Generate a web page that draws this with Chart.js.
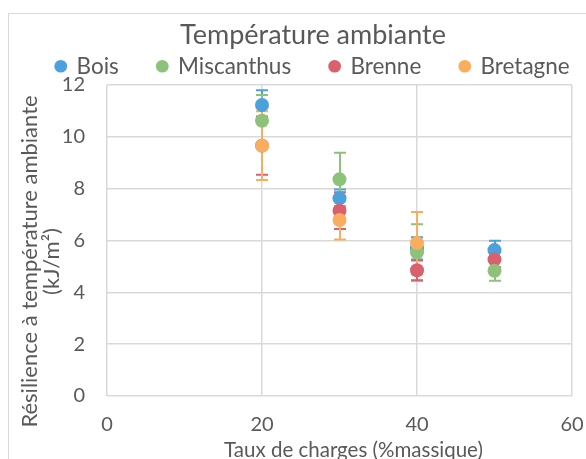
<!DOCTYPE html>
<html>
<head>
<meta charset="utf-8">
<script src="https://cdn.jsdelivr.net/npm/chart.js@4"></script>
<style>
  html, body { margin: 0; padding: 0; background: #fff; }
  #wrap { width: 586px; height: 459px; position: relative; overflow: hidden; }
</style>
</head>
<body>
<div id="wrap"><canvas id="chart" width="586" height="459"></canvas></div>
<script>
// Résilience à température ambiante selon le taux de charges
const taux = [20, 30, 40, 50];

const bois = [11.23, 7.63, 5.7, 5.63];
const boisErr = [0.57, 0.34, 0.43, 0.36];

const miscanthus = [10.62, 8.36, 5.54, 4.83];
const miscanthusErr = [0.99, 1.03, 1.09, 0.38];

const brenne = [9.66, 7.15, 4.85, 5.27];
const brenneErr = [1.12, 0.71, 0.38, 0.3];

const bretagne = [9.66, 6.79, 5.9];
const bretagneErr = [1.33, 0.75, 1.2];

const yTitle = ['Résilience à température ambiante', '(kJ/m²)'];
const xTitle = 'Taux de charges (%massique)';

const colors = {
    bois: '#4aa1dc',
    miscanthus: '#8cc27a',
    brenne: '#d9606c',
    bretagne: '#f9ad5e',
    text: '#595959',
    grid: '#d9d9d9'
};

const FONT = 'Lato';

const toPoints = (vals) => vals.map((v, i) => ({ x: taux[i], y: v }));

const makeSet = (label, vals, err, color, order) => ({
    label: label,
    data: toPoints(vals),
    errors: err,
    backgroundColor: color,
    borderColor: color,
    pointRadius: 7,
    pointHoverRadius: 7,
    pointBorderWidth: 0,
    pointStyle: 'circle',
    showLine: false,
    order: order
});

// Barres d'erreur verticales avec petits chapeaux (sous les marqueurs)
const errorBars = {
    id: 'errorBars',
    beforeDatasetsDraw(chart) {
        const { ctx, scales: { x, y } } = chart;
        ctx.save();
        ctx.lineWidth = 2;
        chart.data.datasets.forEach(ds => {
            ctx.strokeStyle = ds.borderColor;
            ds.data.forEach((p, i) => {
                const e = ds.errors[i];
                const px = Math.round(x.getPixelForValue(p.x));
                const top = y.getPixelForValue(p.y + e);
                const bot = y.getPixelForValue(p.y - e);
                ctx.beginPath();
                ctx.moveTo(px, top); ctx.lineTo(px, bot);
                ctx.moveTo(px - 6, top); ctx.lineTo(px + 6, top);
                ctx.moveTo(px - 6, bot); ctx.lineTo(px + 6, bot);
                ctx.stroke();
            });
        });
        ctx.restore();
    }
};

// Cadre de la zone du graphique
const frame = {
    id: 'frame',
    beforeDraw(chart) {
        const ctx = chart.ctx;
        ctx.save();
        ctx.strokeStyle = colors.grid;
        ctx.lineWidth = 1;
        ctx.strokeRect(8.5, 13.5, 600, 470);
        ctx.restore();
    }
};

// Titres des axes, légèrement décalés comme dans Excel
const axisTitles = {
    id: 'axisTitles',
    afterDraw(chart) {
        const { ctx, chartArea: a } = chart;
        ctx.save();
        ctx.fillStyle = colors.text;
        ctx.textAlign = 'center';
        ctx.textBaseline = 'alphabetic';

        ctx.font = '22px ' + FONT;
        ctx.translate(37, (a.top + a.bottom) / 2 + 21);
        ctx.rotate(-Math.PI / 2);
        yTitle.forEach((line, i) => ctx.fillText(line, 0, i * 22));
        ctx.setTransform(1, 0, 0, 1, 0, 0);

        ctx.font = '20.5px ' + FONT;
        ctx.fillText(xTitle, (a.left + a.right) / 2 + 14, 457);
        ctx.restore();
    }
};

new Chart(document.getElementById('chart'), {
    type: 'scatter',
    data: {
        datasets: [
            makeSet('Bois', bois, boisErr, colors.bois, 4),
            makeSet('Miscanthus', miscanthus, miscanthusErr, colors.miscanthus, 2),
            makeSet('Brenne', brenne, brenneErr, colors.brenne, 3),
            makeSet('Bretagne', bretagne, bretagneErr, colors.bretagne, 1)
        ]
    },
    options: {
        responsive: false,
        animation: false,
        // la marge droite négative laisse à la légende la place d'une seule ligne
        layout: { padding: { left: 5, right: -35, top: 0, bottom: 0 } },
        plugins: {
            tooltip: { enabled: false },
            title: {
                display: true,
                text: 'Température ambiante',
                color: colors.text,
                font: { family: FONT, size: 27, weight: 'normal' },
                padding: { top: 18.8, bottom: -35.2 }
            },
            legend: {
                position: 'top',
                maxHeight: 69,
                labels: {
                    usePointStyle: true,
                    pointStyle: 'circle',
                    boxWidth: 9,
                    boxHeight: 9,
                    padding: 39,
                    color: colors.text,
                    font: { family: FONT, size: 22.5 },
                    sort: (a, b) => a.datasetIndex - b.datasetIndex
                }
            }
        },
        scales: {
            x: {
                type: 'linear',
                min: 0, max: 60,
                ticks: {
                    stepSize: 20,
                    color: colors.text,
                    font: { family: FONT, size: 20 },
                    padding: 0
                },
                // graduations invisibles : elles ne servent qu'à décaler les libellés
                grid: { color: colors.grid, lineWidth: 1.5, tickLength: 17, tickColor: 'rgba(0,0,0,0)' },
                border: { display: false },
                afterFit(scale) { scale.height = 63; }
            },
            y: {
                min: 0, max: 12,
                ticks: {
                    stepSize: 2,
                    color: colors.text,
                    font: { family: FONT, size: 20 },
                    padding: 22
                },
                grid: { color: colors.grid, drawTicks: false, lineWidth: 1.5 },
                border: { display: false },
                afterFit(scale) { scale.width = 102; }
            },
            // axe vide à droite : réserve la marge à droite du tracé
            yRight: {
                position: 'right',
                ticks: { display: false },
                grid: { display: false },
                border: { display: false },
                afterFit(scale) { scale.width = 49; }
            }
        }
    },
    plugins: [frame, errorBars, axisTitles]
});
</script>
</body>
</html>
